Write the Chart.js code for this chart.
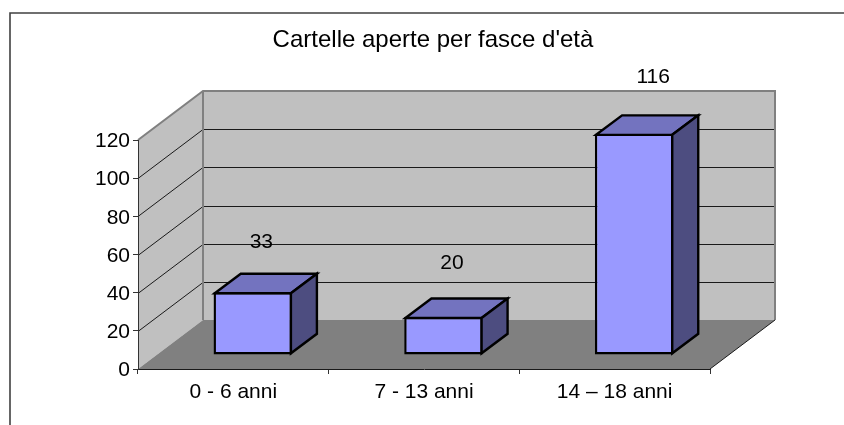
<!DOCTYPE html>
<html><head><meta charset="utf-8">
<style>html,body{margin:0;padding:0;background:#fff}canvas{display:block}</style>
<script src="https://cdn.jsdelivr.net/npm/chart.js@4/dist/chart.umd.min.js"></script>
</head><body><canvas id="c" width="844" height="425"></canvas>
<script>
const categories = ["0 - 6 anni", "7 - 13 anni", "14 – 18 anni"];
const values = [33, 20, 116];
const chartTitle = "Cartelle aperte per fasce d'età";
const yMax = 120, yStep = 20;

const FONT = '"Liberation Sans", Arial, sans-serif';
const DEPTH_X = 65, DEPTH_Y = -49;      // wall depth
const BAR_DX = 19.5, BAR_DY = -14;      // bar placement on the floor
const BOX_X = 26, BOX_Y = -19.5;        // bar depth
const EDGE = 2.4;                       // bar outline
const LABEL_SHIFT = [{x:8.5,y:-50},{x:8.5,y:-54},{x:19,y:-56}];

function poly(ctx, pts, fill, stroke, lw){
  ctx.beginPath();
  pts.forEach((p,i)=> i?ctx.lineTo(p[0],p[1]):ctx.moveTo(p[0],p[1]));
  ctx.closePath();
  if(fill){ctx.fillStyle=fill;ctx.fill();}
  if(stroke){ctx.strokeStyle=stroke;ctx.lineWidth=lw;ctx.lineJoin='miter';ctx.stroke();}
}
const scene = {
  id:'scene',
  afterLayout(chart){
    chart.titleBlock.left = 22; chart.titleBlock.right = 844;
  },
  beforeDraw(chart){
    const {ctx, chartArea:a, scales:{y}} = chart;
    const dx=DEPTH_X, dy=DEPTH_Y;
    ctx.save();
    ctx.fillStyle='#fff';ctx.fillRect(0,0,chart.width,chart.height);
    // page frame
    ctx.strokeStyle='#404040';ctx.lineWidth=1.6;
    ctx.beginPath();ctx.moveTo(10,425);ctx.lineTo(10,13);ctx.lineTo(844,13);ctx.stroke();
    // back and side walls
    poly(ctx,[[a.left+dx,a.top+dy],[a.right+dx,a.top+dy],[a.right+dx,a.bottom+dy],[a.left+dx,a.bottom+dy]],'#c0c0c0');
    poly(ctx,[[a.left,a.top],[a.left+dx,a.top+dy],[a.left+dx,a.bottom+dy],[a.left,a.bottom]],'#c0c0c0');
    // gridlines
    ctx.strokeStyle='#1a1a1a';ctx.lineWidth=1;
    y.ticks.forEach(t=>{
      if(t.value===0||t.value===yMax) return;
      const p=Math.round(y.getPixelForValue(t.value))+0.5;
      ctx.beginPath();ctx.moveTo(a.left,p);ctx.lineTo(a.left+dx,p+dy);ctx.lineTo(a.right+dx,p+dy);ctx.stroke();
    });
    // wall edges
    ctx.strokeStyle='#808080';ctx.lineWidth=2;
    ctx.beginPath();
    ctx.moveTo(a.left,a.top);ctx.lineTo(a.left+dx,a.top+dy);ctx.lineTo(a.right+dx,a.top+dy);ctx.lineTo(a.right+dx,a.bottom+dy);
    ctx.moveTo(a.left+dx,a.top+dy);ctx.lineTo(a.left+dx,a.bottom+dy);
    ctx.stroke();
    // floor
    poly(ctx,[[a.left,a.bottom],[a.left+dx,a.bottom+dy],[a.right+dx,a.bottom+dy],[a.right,a.bottom]],'#808080');
    ctx.strokeStyle='#1a1a1a';ctx.lineWidth=1;
    ctx.beginPath();ctx.moveTo(a.right,a.bottom);ctx.lineTo(a.right+dx,a.bottom+dy);ctx.stroke();
    ctx.restore();
  },
  beforeDatasetDraw(chart){
    chart.ctx.save();
    chart.ctx.translate(BAR_DX,BAR_DY);
  },
  afterDatasetDraw(chart){
    const ctx=chart.ctx, meta=chart.getDatasetMeta(0), h=EDGE/2;
    meta.data.forEach((b)=>{
      const w=b.width/2, L=b.x-w+h, R=b.x+w-h, T=b.y+h, B=b.base-h;
      poly(ctx,[[L,T],[L+BOX_X,T+BOX_Y],[R+BOX_X,T+BOX_Y],[R,T]],'#7373bf','#000',EDGE);
      poly(ctx,[[R,T],[R+BOX_X,T+BOX_Y],[R+BOX_X,B+BOX_Y],[R,B]],'#4d4d80','#000',EDGE);
    });
    ctx.restore();
    ctx.save();
    ctx.fillStyle='#000';ctx.font='21px '+FONT;ctx.textAlign='center';ctx.textBaseline='middle';
    meta.data.forEach((b,i)=>{
      ctx.fillText(String(values[i]), b.x+BAR_DX+LABEL_SHIFT[i].x, b.y+BAR_DY+LABEL_SHIFT[i].y);
    });
    ctx.restore();
  }
};
new Chart(document.getElementById('c'),{
  type:'bar',
  data:{labels:categories,datasets:[{data:values,backgroundColor:'#9999ff',borderColor:'#000',borderWidth:EDGE,borderSkipped:false,
    categoryPercentage:1,barPercentage:0.412,clip:false}]},
  plugins:[scene],
  options:{
    responsive:false,animation:false,
    layout:{padding:{left:10,right:134,top:0,bottom:0}},
    plugins:{
      legend:{display:false},tooltip:{enabled:false},
      title:{display:true,text:chartTitle,color:'#000',font:{family:FONT,size:24,weight:'normal',lineHeight:1.2},
        padding:{top:26,bottom:85.2}}
    },
    scales:{
      x:{grid:{display:true,drawOnChartArea:false,drawTicks:true,tickLength:5,color:'#333'},
        border:{color:'#1a1a1a',width:1},
        ticks:{color:'#000',font:{family:FONT,size:21},padding:6,maxRotation:0},
        afterFit(s){s.height=56;}},
      y:{min:0,max:yMax,
        grid:{display:true,drawOnChartArea:false,drawTicks:true,tickLength:5,color:'#333'},
        border:{color:'#333',width:1},
        ticks:{stepSize:yStep,color:'#000',font:{family:FONT,size:21},padding:3,labelOffset:1.5},
        afterFit(s){s.width=128;}}
    }
  }
});
</script></body></html>
